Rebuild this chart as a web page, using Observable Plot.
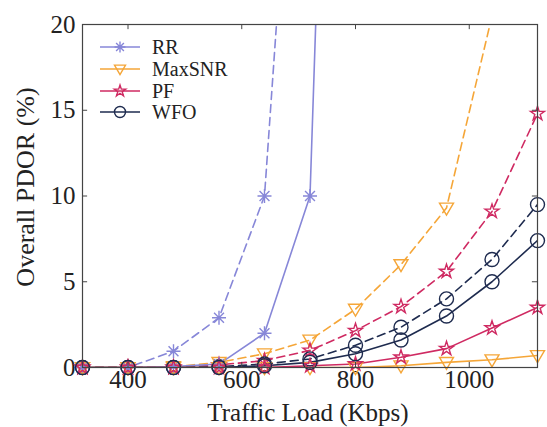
<!DOCTYPE html>
<html>
<head>
<meta charset="utf-8">
<script src="https://cdn.jsdelivr.net/npm/d3@7"></script>
<script src="https://cdn.jsdelivr.net/npm/@observablehq/plot@0.6"></script>
<style>
  body { margin: 0; background: #fff; }
  #wrap { position: relative; width: 547px; height: 427px; }
  #legend { position: absolute; left: 0; top: 0; pointer-events: none; }
</style>
</head>
<body>
<div id="wrap"></div>
<script>
// ---- data ----
const loads = [320, 400, 480, 560, 640, 720, 800, 880, 960, 1040, 1120];
const xTicks = [400, 600, 800, 1000];
const yTicks = [0, 5, 10, 15, 20];
const schemes = ["RR", "MaxSNR", "PF", "WFO"];
const colors = ["#8787d8", "#f5a638", "#cf2a62", "#1e2b4f"];
const xLabel = "Traffic Load (Kbps)";
const yLabel = "Overall PDOR (%)";

const rrDash     = [0, 0, 0.95, 2.9, 10, 48];
const rrSolid    = [0, 0, 0.05, 0.2, 2.0, 10, 90];
const maxDash    = [0, 0, 0.05, 0.3, 0.8, 1.6, 3.4, 6.0, 9.3, 20.5, 35];
const maxSolid   = [0, 0, 0, 0, 0, 0, 0, 0.1, 0.3, 0.45, 0.7];
const pfDash     = [0, 0, 0, 0.15, 0.4, 1.0, 2.15, 3.55, 5.6, 9.1, 14.8];
const pfSolid    = [0, 0, 0, 0, 0, 0.1, 0.2, 0.6, 1.1, 2.3, 3.5];
const wfoDash    = [0, 0, 0, 0.05, 0.2, 0.5, 1.3, 2.35, 4.0, 6.3, 9.5];
const wfoSolid   = [0, 0, 0, 0, 0.1, 0.3, 0.8, 1.6, 3.0, 5.0, 7.4];

const series = [
  {scheme: "RR", dashed: true, values: rrDash},
  {scheme: "MaxSNR", dashed: true, values: maxDash},
  {scheme: "PF", dashed: true, values: pfDash},
  {scheme: "WFO", dashed: true, values: wfoDash},
  {scheme: "RR", dashed: false, values: rrSolid},
  {scheme: "MaxSNR", dashed: false, values: maxSolid},
  {scheme: "PF", dashed: false, values: pfSolid},
  {scheme: "WFO", dashed: false, values: wfoSolid}
];

const FONT = "'Liberation Serif', 'Times New Roman', Times, serif";

// ---- custom marker symbols (MATLAB-like) ----
const asterisk8 = {draw(ctx, size) {
  const r = Math.sqrt(size / Math.PI);
  for (const a of [0, 45, 90, 135]) {
    const t = a * Math.PI / 180;
    ctx.moveTo(r * Math.cos(t), r * Math.sin(t));
    ctx.lineTo(-r * Math.cos(t), -r * Math.sin(t));
  }
}};
const triDown = {draw(ctx, size) {
  const r = Math.sqrt(size / Math.PI);
  ctx.moveTo(-r, -r * 0.7);
  ctx.lineTo(r, -r * 0.7);
  ctx.lineTo(0, r);
  ctx.closePath();
}};
const circleSym = {draw(ctx, size) {
  const r = Math.sqrt(size / Math.PI);
  ctx.moveTo(r, 0);
  ctx.arc(0, 0, r, 0, 2 * Math.PI);
}};
const symbols = {RR: asterisk8, MaxSNR: triDown, PF: d3.symbolStar, WFO: circleSym};
const radius = {RR: 7, MaxSNR: 7, PF: 4.4, WFO: 7};
const colorOf = s => colors[schemes.indexOf(s)];

const marks = [];
for (const s of series) {
  const rows = s.values.map((v, i) => ({load: loads[i], pdor: v}));
  marks.push(Plot.line(rows, {
    x: "load", y: "pdor", stroke: colorOf(s.scheme), strokeWidth: 1.6,
    strokeDasharray: s.dashed ? "8,5" : null, clip: true
  }));
}
for (const s of series) {
  const rows = s.values.map((v, i) => ({load: loads[i], pdor: v})).filter(d => d.pdor <= 20);
  marks.push(Plot.dot(rows, {
    x: "load", y: "pdor", symbol: symbols[s.scheme],
    r: radius[s.scheme], stroke: colorOf(s.scheme), fill: "none", strokeWidth: 1.4
  }));
}
// inward box ticks
const tx = 0.3, ty = 9;
marks.push(Plot.ruleX(xTicks, {y1: 0, y2: tx, stroke: "#444"}));
marks.push(Plot.ruleX(xTicks, {y1: 20 - tx, y2: 20, stroke: "#444"}));
marks.push(Plot.ruleY(yTicks, {x1: 320, x2: 320 + ty, stroke: "#444"}));
marks.push(Plot.ruleY(yTicks, {x1: 1120 - ty, x2: 1120, stroke: "#444"}));
marks.push(Plot.frame({stroke: "#444", strokeWidth: 1.2}));

const chart = Plot.plot({
  width: 547, height: 427,
  marginLeft: 82, marginRight: 10, marginTop: 24, marginBottom: 60,
  style: {fontFamily: FONT, fontSize: "25px", background: "#fff", color: "#222"},
  x: {domain: [320, 1120], ticks: xTicks, tickSize: 0, tickPadding: 3,
      tickFormat: d3.format("d"), label: null},
  y: {domain: [0, 20], ticks: yTicks, tickSize: 0, tickPadding: 7,
      tickFormat: d3.format("d"), label: null},
  marks
});
document.getElementById("wrap").appendChild(chart);

// ---- overlay: axis titles and legend ----
const ov = d3.select("#wrap").append("svg").attr("id", "legend")
  .attr("width", 547).attr("height", 427)
  .style("font-family", FONT);
ov.append("text").attr("x", 308).attr("y", 412).attr("dy", "0.35em")
  .attr("text-anchor", "middle").attr("font-size", 25).attr("fill", "#222").text(xLabel);
ov.append("text").attr("transform", "translate(25,187) rotate(-90)").attr("dy", "0.35em")
  .attr("text-anchor", "middle").attr("font-size", 26).attr("fill", "#222").text(yLabel);

const rowY = [47, 69, 91, 112];
const legR = {RR: 5.5, MaxSNR: 5.5, PF: 3.6, WFO: 5.5};
schemes.forEach((s, i) => {
  const g = ov.append("g").attr("transform", `translate(0,${rowY[i]})`);
  g.append("line").attr("x1", 100).attr("x2", 140).attr("y1", 0).attr("y2", 0)
    .attr("stroke", colors[i]).attr("stroke-width", 1.6);
  const r = legR[s];
  g.append("path").attr("transform", "translate(120,0)")
    .attr("d", d3.symbol(symbols[s], Math.PI * r * r)())
    .attr("fill", "none").attr("stroke", colors[i]).attr("stroke-width", 1.4);
  g.append("text").attr("x", 152).attr("y", 0).attr("dy", "0.35em")
    .attr("font-size", 20).attr("fill", "#222").text(s);
});
</script>
</body>
</html>
